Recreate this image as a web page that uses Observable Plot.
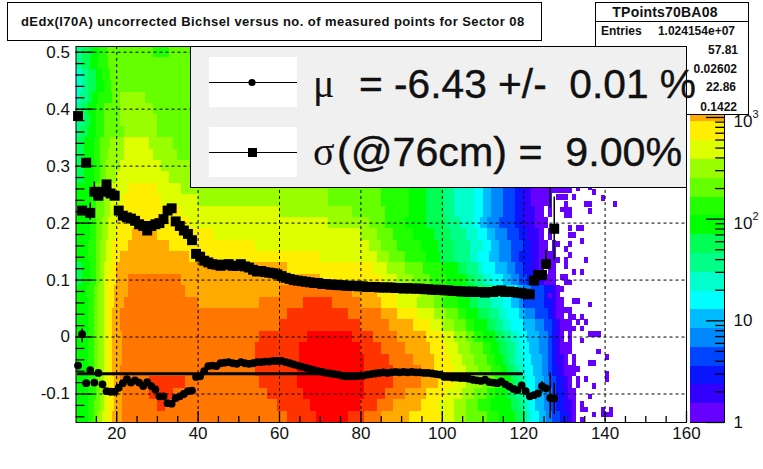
<!DOCTYPE html>
<html>
<head>
<meta charset="utf-8">
<script src="https://cdn.jsdelivr.net/npm/d3@7"></script>
<script src="https://cdn.jsdelivr.net/npm/@observablehq/plot@0.6"></script>
<style>
  html, body { margin: 0; background: #fff; }
  #chart { position: relative; width: 763px; height: 469px; overflow: hidden; font-family: "Liberation Sans", Arial, sans-serif; }
  #chart svg { position: absolute; left: 0; top: 0; }
  #chart svg text { -webkit-text-stroke: 0.3px #111; }
  .box { position: absolute; box-sizing: border-box; border: 1px solid #000; background: #fff; }
  .abs { position: absolute; white-space: pre; color: #111; }
  .big { -webkit-text-stroke: 0.4px #111; }
</style>
</head>
<body>
<div id="chart"></div>
<script>
const titleText = "dEdx(I70A) uncorrected Bichsel versus no. of measured points for Sector 08"
const statName = "TPoints70BA08"
const statValues = ["1.024154e+07", "57.81", "0.02602", "22.86", "0.1422"]

// colour levels of the palette, bottom to top of the z bar
const palette = ["#6600ff", "#3300ff", "#0a14ff", "#0044ff", "#0088ff", "#00bbff", "#00ffff", "#00ffcc", "#00ff88", "#00ff55",
  "#00ff00", "#22ff00", "#66ff00", "#99ff00", "#ddff00", "#ffee00", "#ffaa00", "#ff7700", "#ff3300", "#ff0000"]
const levelEdges = [1, 1.53, 2.34, 3.58, 5.48, 8.39, 12.8, 19.6, 30.1, 46, 70.5, 108, 165, 253, 387, 593, 908, 1390, 2130, 3260, 4990]
const zMajor = [1, 10, 100, 1000]
const zMinor = [2, 3, 4, 5, 6, 7, 8, 9, 20, 30, 40, 50, 60, 70, 80, 90, 200, 300, 400, 500, 600, 700, 800, 900, 2000, 3000, 4000]
const zPlainValues = [1, 10]
const zPlain = ["1", "10"]
const zPowerValues = [100, 1000]
const zPower = ["10", "10"]
const zExp = ["2", "3"]

const xMajor = [20, 40, 60, 80, 100, 120, 140, 160]
const xMinor = [15, 25, 30, 35, 45, 50, 55, 65, 70, 75, 85, 90, 95, 105, 110, 115, 125, 130, 135, 145, 150, 155]
const yMajor = [-0.1, 0, 0.1, 0.2, 0.3, 0.4, 0.5]
const yMinor = [-0.14, -0.12, -0.08, -0.06, -0.04, -0.02, 0.02, 0.04, 0.06, 0.08, 0.12, 0.14, 0.16, 0.18, 0.22, 0.24, 0.26, 0.28,
  0.32, 0.34, 0.36, 0.38, 0.42, 0.44, 0.46, 0.48]

// 2D histogram: for each row, pairs of level, x where that level ends (-1 is an empty stretch)
const rowBottom = [-0.15, -0.13, -0.11, -0.09, -0.07, -0.05, -0.03, -0.01, 0.01, 0.03, 0.05, 0.07, 0.09, 0.11, 0.13, 0.15, 0.17,
  0.19, 0.21, 0.23, 0.25, 0.27, 0.29, 0.31, 0.33, 0.35, 0.37, 0.39, 0.41, 0.43, 0.45, 0.47, 0.49]
const rowRuns = [
  [10,13,11,14.5,12,15.5,13,16.5,14,18,15,19,16,21.5,17,62,18,69,19,77,18,81,17,85,16,92,15,100,14,103,13,106,12,111,11,114,10,118,9,120,8,121,7,122,6,124,5,125.5,4,127,3,129,2,131,1,132,0,133],
  [10,13,11,14.5,12,16,13,17,14,18,15,19.5,16,21.5,17,30,18,32,17,59.5,18,67.5,19,80,18,84,17,88,16,95,15,99,14,103,13,106,12,109,11,112,10,117,9,119,8,120.5,7,121.5,6,123,5,125,4,126.5,3,128,2,130,1,132,0,133],
  [10,13,11,15,12,16,13,17,14,18,15,19.5,16,21.5,17,28,18,34,17,57,18,66,19,81,18,86,17,91,16,96,15,101,14,105,13,108,12,111,11,113,10,116,9,118,8,120,7,121,6,123,5,125,4,127,3,128,2,130,1,131,0,133],
  [10,13,11,15,12,16,13,17,14,18,15,19.5,16,21,17,28,18,37,17,55,18,64.5,19,81,18,88,17,95,16,99,15,103,14,106,13,110,12,113,11,115,10,117,9,118.5,8,120,7,121,6,123,5,125,4,126.5,3,128,2,129.5,1,131,0,132,-1,133,0,134],
  [10,13,11,14.5,12,15.5,13,17,14,18,15,19,16,21,17,54,18,64.5,19,81,18,88,17,95,16,98,15,103,14,106,13,109,12,112,11,114.5,10,116,9,117.5,8,119,7,120.5,6,122.5,5,124.5,4,126,3,127,2,128.5,1,130,0,133],
  [10,13,11,14.5,12,15.5,13,17,14,18,15,19,16,21.5,17,54,18,65,19,81,18,87,17,93,16,98,15,102,14,105,13,108,12,111,11,113,10,115,9,116.5,8,118,7,120,6,122,5,124.5,4,126,3,127,2,128,1,130,0,131,-1,132,0,133],
  [10,13,11,14.5,12,15.5,13,17,14,18,15,19,16,21.5,17,54,18,65,19,80,18,85,17,91,16,97,15,101,14,104,13,107,12,110,11,112,10,114,9,116,8,118,7,119.5,6,121.5,5,124,4,126,3,127,2,128,1,129,0,132],
  [10,13,11,14.5,12,15.5,13,17,14,18,15,19,16,21.5,17,55,18,67,19,78,18,83,17,89,16,96,15,100,14,103,13,106,12,108,11,110,10,113,9,115,8,117,7,119,6,121,5,124,4,126,3,127,2,128,1,129,0,130,-1,131,0,132],
  [10,13,11,14.5,12,15.5,13,17,14,18,15,19,16,21,17,60,18,80,17,87,16,93,15,97,14,100,13,103,12,106,11,108,10,111,9,113,8,115,7,117,6,120,5,123,4,125,3,127,2,128,1,129,0,132],
  [10,13,11,14.5,12,15.5,13,17,14,18,15,19,16,21,17,62,18,77,17,85,16,89,15,94,14,98,13,101,12,104,11,106,10,109,9,111.5,8,114,7,116,6,119,5,120.5,4,123,3,126,2,127,1,128,0,130,-1,131,0,132],
  [10,13,11,14.5,12,15.5,13,17,14,18,15,19.5,16,22,17,40,16,55,17,66,18,73,17,80,16,85,15,89,14,94,13,98,12,100,11,104,10,107,9,109,8,112,7,115,6,117,5,119,4,120,3,125,2,127,1,128,0,130],
  [10,12.5,11,14.5,12,15.5,13,17,14,18,15,19.5,16,23,17,37,16,60,17,78,16,84,15,89,14,95,13,98,12,101,11,104,10,108,9,111,8,114,7,117,6,118.5,5,120,4,122,3,125,2,127,1,128,0,129],
  [9,11.5,10,13.5,11,15,12,16,13,17,14,18,15,20,16,23,17,36,16,70,15,85,14,89,13,93,12,97,11,101,10,106,9,108,8,110,7,112,6,115,5,117,4,119,3,121,2,123,1,125,0,128],
  [9,11.5,10,13.5,11,15,12,16,13,17,14,18.5,15,20,16,62,15,83,14,86.5,13,91,12,95.5,11,100,10,104,9,106,8,109,7,110,6,113,5,116,4,118,3,120,2,122,1,124,0,125,-1,126,0,128],
  [10,13,11,15,12,16,13,17.5,14,19,15,21,16,38,15,70,14,84,13,87,12,91,11,96,10,99.5,9,103,8,107,7,109,6,111.5,5,114,4,117,3,119,2,122,1,124,0,128],
  [10,13,11,15,12,16,13,17.5,14,19,15,23,16,33,15,54,14,82,13,85,12,89,11,95,10,99,9,103,8,107,7,110,6,112,5,114,4,117,3,120,2,122,1,124,0,126,-1,127,0,128],
  [10,13.5,11,15,12,16.5,13,18,14,20,15,24,16,30,15,44,14,80,13,84,12,88,11,93,10,98,9,102,8,106,7,109,6,111,5,113,4,116,3,119,2,121,1,124,0,125,-1,126,0,127],
  [10,13.5,11,15,12,16.5,13,18,14,20,15,38,14,72,13,82,12,86,11,91,10,96,9,101,8,104.5,7,108,6,109.5,5,111,4,114,3,118,2,120,1,123,0,126],
  [10,13.5,11,15,12,17,13,18.5,14,21,15,36,14,60,13,78,12,86,11,92,10,96,9,100.5,8,103,7,108,6,110,5,112,4,115,3,118,2,120,1,123,0,125,-1,126,0,127],
  [10,14,11,15,12,17,13,18.5,14,21.5,15,31,14,40,13,72,12,85,11,92,10,96,9,100.5,8,103,7,108,6,110,5,112,4,115,3,118,2,120,1,122,0,127],
  [10,14,11,15,12,17,13,19,14,23,15,30,14,36,13,72,12,85,11,92,10,96,9,100.5,8,103,7,108,6,110,5,112,4,115,3,118,2,120,1,122,0,127],
  [9,12,10,14.5,11,16,12,17.5,13,20,14,33,13,39],
  [9,12,10,14.5,11,16,12,17.5,13,21,14,31,13,39],
  [9,12,10,14.5,11,16,12,18,13,22,14,29,13,35,12,39],
  [9,12,10,14.5,11,16,12,18.5,13,22,14,28,13,34,12,39],
  [8,11,9,13,10,15,11,17,12,22,13,30,12,39],
  [8,12,9,13.5,10,15,11,17,12,21,13,30,12,39],
  [8,11.5,9,13,10,15,11,17,12,21,13,29,12,39],
  [7,11,8,13,9,14,10,15.5,11,19,12,21,13,27,12,39],
  [7,11.5,8,13,9,15,10,17,11,18.6,12,39],
  [7,11.5,8,13,9,15,10,16.5,11,18.5,12,39],
  [8,11.5,9,13.5,10,15.5,11,18,12,39],
  [8,11.6,9,13.7,10,15.7,11,17.8,12,29,11,33,12,39]
]

// lone low-count bins at the right edge of the histogram
const sparseX = [127.5,128.5,129.5,130.5,131.5,133.5,136.5,137.5,128.5,129.5,130.5,132.5,139.5,130.5,135.5,136.5,142.5,129.5,130.5,131.5,136.5,130.5,131.5,
  131.5,133.5,134.5,131.5,132.5,134.5,128.5,131.5,130.5,131.5,127.5,128.5,130.5,135.5,130.5,132.5,134.5,126.5,127.5,129.5,130.5,125.5,127.5,130.5,131.5,128.5,129.5,126.5,
  129.5,132.5,133.5,136.5,128.5,129.5,130.5,131.5,132.5,134.5,133.5,135.5,130.5,131.5,132.5,134.5,136.5,137.5,138.5,134.5,138.5,140.5,136.5,137.5,132.5,133.5,140.5,140.5,
  135.5,137.5,136.5,134.5,134.5,135.5,139.5,141.5,137.5,139.5,140.5,141.5,134.5]
const sparseY = [0.257,0.257,0.257,0.257,0.257,0.26,0.262,0.254,0.245,0.245,0.245,0.245,0.243,0.233,0.233,0.233,0.233,0.223,0.223,0.223,0.22,0.213,0.213,
  0.19,0.19,0.19,0.178,0.178,0.168,0.163,0.163,0.154,0.143,0.134,0.134,0.134,0.134,0.124,0.113,0.113,0.113,0.105,0.105,0.105,0.095,0.095,0.095,0.095,0.084,0.084,0.072,
  0.063,0.063,0.063,0.056,0.046,0.046,0.046,0.046,0.034,0.034,0.025,0.025,0.014,0.014,0.014,0.014,0.004,0.004,0.004,-0.007,-0.026,-0.036,-0.046,-0.046,-0.057,-0.057,-0.066,-0.075,
  -0.075,-0.087,-0.105,-0.119,-0.128,-0.128,-0.128,-0.128,-0.137,-0.137,-0.137,-0.137,-0.146]

// mean and sigma per number of measured points
const pointX = [10.5,11.5,12.5,13.5,14.5,15.5,16.5,17.5,18.5,19.5,20.5,21.5,22.5,23.5,24.5,25.5,26.5,27.5,28.5,29.5,30.5,31.5,32.5,33.5,34.5,35.5,36.5,37.5,38.5,39.5,
  40.5,41.5,42.5,43.5,44.5,45.5,46.5,47.5,48.5,49.5,50.5,51.5,52.5,53.5,54.5,55.5,56.5,57.5,58.5,59.5,60.5,61.5,62.5,63.5,64.5,65.5,66.5,67.5,68.5,69.5,
  70.5,71.5,72.5,73.5,74.5,75.5,76.5,77.5,78.5,79.5,80.5,81.5,82.5,83.5,84.5,85.5,86.5,87.5,88.5,89.5,90.5,91.5,92.5,93.5,94.5,95.5,96.5,97.5,98.5,99.5,
  100.5,101.5,102.5,103.5,104.5,105.5,106.5,107.5,108.5,109.5,110.5,111.5,112.5,113.5,114.5,115.5,116.5,117.5,118.5,119.5,120.5,121.5,122.5,123.5,124.5,125.5,126.5,127.5]
const muValues = [-0.05,0.005,-0.081,-0.058,-0.08,-0.063,-0.083,-0.095,-0.096,-0.096,-0.089,-0.081,-0.074,-0.08,-0.076,-0.08,-0.086,-0.079,-0.086,-0.092,-0.104,-0.104,-0.116,-0.117,-0.107,-0.104,-0.1,-0.095,-0.094,-0.07,
  -0.069,-0.06,-0.051,-0.05,-0.051,-0.046,-0.045,-0.044,-0.046,-0.047,-0.044,-0.046,-0.047,-0.046,-0.044,-0.044,-0.043,-0.043,-0.042,-0.042,-0.042,-0.044,-0.046,-0.048,-0.05,-0.052,-0.054,-0.056,-0.058,-0.06,
  -0.061,-0.063,-0.064,-0.065,-0.066,-0.068,-0.069,-0.069,-0.069,-0.068,-0.068,-0.066,-0.065,-0.064,-0.063,-0.062,-0.063,-0.062,-0.061,-0.062,-0.061,-0.062,-0.061,-0.062,-0.062,-0.063,-0.063,-0.064,-0.065,-0.066,
  -0.07,-0.07,-0.071,-0.071,-0.072,-0.072,-0.073,-0.075,-0.076,-0.077,-0.075,-0.079,-0.08,-0.081,-0.078,-0.083,-0.087,-0.091,-0.093,-0.085,-0.095,-0.104,-0.102,-0.099,-0.086,-0.09,-0.107,-0.108]
const sigmaValues = [0.388,0.222,0.306,0.218,0.255,0.248,0.255,0.268,0.252,0.248,0.222,0.213,0.21,0.208,0.204,0.198,0.195,0.187,0.195,0.198,0.2,0.207,0.222,0.226,0.203,0.195,0.187,0.181,0.17,0.146,
  0.141,0.134,0.131,0.128,0.127,0.125,0.127,0.128,0.125,0.125,0.128,0.124,0.122,0.118,0.115,0.116,0.114,0.113,0.112,0.11,0.107,0.104,0.102,0.1,0.099,0.098,0.097,0.096,0.095,0.095,
  0.093,0.093,0.092,0.092,0.091,0.091,0.09,0.09,0.09,0.089,0.089,0.088,0.088,0.088,0.087,0.087,0.087,0.087,0.086,0.086,0.085,0.086,0.085,0.085,0.085,0.084,0.084,0.083,0.083,0.083,
  0.082,0.082,0.081,0.081,0.08,0.08,0.079,0.08,0.079,0.079,0.078,0.079,0.079,0.081,0.082,0.079,0.08,0.079,0.078,0.077,0.076,0.075,0.099,0.109,0.109,0.128,0.33,0.19]

// the error bars that stick out of the markers
const errX = [11.5, 14.5, 13.5, 125.5, 126.5, 127.5, 124.5, 126.5, 127.5]
const errLow = [-0.01, 0.24, 0.205, 0.12, 0.227, 0.134, -0.098, -0.144, -0.136]
const errHigh = [0.014, 0.272, 0.235, 0.153, 0.4, 0.246, -0.078, -0.063, -0.081]

// gaussian fit drawn across the mean points
const fitX = [10.5, 119.5]
const fitY = [-0.0643, -0.0643]

const cells = rowBottom.flatMap((y, r) => {
  const runs = rowRuns[r]
  const out = []
  let x0 = 10
  for (let i = 0; i < runs.length; i += 2) {
    if (runs[i] >= 0) out.push({ x1: x0, x2: runs[i + 1], y1: y, y2: y + 0.02, level: runs[i] })
    x0 = runs[i + 1]
  }
  return out
})
// bottom row touches the frame
cells.filter(d => d.y1 === -0.15).forEach(d => { d.y1 = -0.16 })

const tickFont = { fontSize: 17, fontFamily: "Liberation Sans, Arial, sans-serif", fill: "#111" }

const chart = Plot.plot({
  width: 763,
  height: 469,
  marginLeft: 75.5,
  marginRight: 77,
  marginTop: 46,
  marginBottom: 47,
  style: { background: "transparent" },
  x: { domain: [10, 160] },
  y: { domain: [-0.15, 0.51] },
  color: { type: "ordinal", domain: d3.range(20), range: palette },
  marks: [
    Plot.rect(cells, { x1: "x1", x2: "x2", y1: "y1", y2: "y2", fill: "level", shapeRendering: "crispEdges", clip: true }),
    Plot.rect(sparseX.map((x, i) => ({ x1: x - 0.5, x2: x + 0.5, y1: sparseY[i] - 0.005, y2: sparseY[i] + 0.005 })),
      { x1: "x1", x2: "x2", y1: "y1", y2: "y2", fill: palette[0], shapeRendering: "crispEdges", clip: true }),
    Plot.gridX(xMajor.slice(0, -1), { stroke: "#000", strokeOpacity: 1, strokeDasharray: "3,3" }),
    Plot.gridY(yMajor, { stroke: "#000", strokeOpacity: 1, strokeDasharray: "3,3" }),
    Plot.axisX({ ticks: xMajor, tickSize: 0, tickPadding: 4, tickFormat: String, label: null, ...tickFont }),
    Plot.axisY({ ticks: yMajor, tickSize: 0, tickPadding: 6, tickFormat: String, label: null, ...tickFont }),
    Plot.ruleX(errX.map((x, i) => ({ x, lo: errLow[i], hi: errHigh[i] })), { x: "x", y1: "lo", y2: "hi", stroke: "#000", strokeWidth: 1.5, clip: true }),
    Plot.line(fitX.map((x, i) => ({ x, y: fitY[i] })), { x: "x", y: "y", stroke: "#000", strokeWidth: 3 }),
    Plot.dot(pointX.map((x, i) => ({ x, y: muValues[i] })), { x: "x", y: "y", r: 3.9, fill: "#000" }),
    Plot.dot(pointX.map((x, i) => ({ x, y: sigmaValues[i] })), { x: "x", y: "y", symbol: "square", r: 5.6, fill: "#000" }),
    // ROOT style ticks, inside the frame, drawn last so the heat map cannot hide them
    Plot.ruleX(xMinor, { x: d => d, y1: -0.15, y2: -0.1395, stroke: "#000", strokeWidth: 1.3 }),
    Plot.ruleX(xMajor, { x: d => d, y1: -0.15, y2: -0.1307, stroke: "#000", strokeWidth: 1.3 }),
    Plot.ruleY(yMinor, { y: d => d, x1: 10, x2: 12.2, stroke: "#000", strokeWidth: 1.3 }),
    Plot.ruleY(yMajor, { y: d => d, x1: 10, x2: 14.4, stroke: "#000", strokeWidth: 1.3 }),
    Plot.frame({ stroke: "#000" })
  ]
})

// z colour bar, second svg over the first
const zBar = Plot.plot({
  width: 763,
  height: 469,
  marginLeft: 690,
  marginRight: 39,
  marginTop: 46,
  marginBottom: 47,
  style: { background: "transparent" },
  x: { domain: [0, 1], axis: null },
  y: { type: "log", domain: [1, 4990], axis: null },
  marks: [
    Plot.rect(palette.map((c, i) => ({ c, lo: levelEdges[i], hi: levelEdges[i + 1] })),
      { x1: 0, x2: 1, y1: "lo", y2: "hi", fill: "c", shapeRendering: "crispEdges" }),
    Plot.ruleY(zMinor, { y: d => d, x1: 0.74, x2: 1, stroke: "#000", strokeWidth: 1.3 }),
    Plot.ruleY(zMajor, { y: d => d, x1: 0.47, x2: 1, stroke: "#000", strokeWidth: 1.3 }),
    Plot.frame({ anchor: "right", stroke: "#000" }),
    Plot.frame({ anchor: "bottom", stroke: "#000" }),
    Plot.text(zPlain, { x: 1, y: (d, i) => zPlainValues[i], dx: 9, textAnchor: "start", ...tickFont }),
    Plot.text(zPower, { x: 1, y: (d, i) => zPowerValues[i], dx: 9, dy: 4, textAnchor: "start", ...tickFont }),
    Plot.text(zExp, { x: 1, y: (d, i) => zPowerValues[i], dx: 28, dy: -3, textAnchor: "start", ...tickFont, fontSize: 11 })
  ]
})

const root = document.getElementById("chart")
root.append(chart, zBar)

function addBox(left, top, w, h, bg) {
  const el = document.createElement("div")
  el.className = "box"
  el.style.cssText = `left:${left}px;top:${top}px;width:${w}px;height:${h}px;` + (bg ? `background:${bg};` : "")
  root.append(el)
  return el
}
function addText(text, css, cls) {
  const el = document.createElement("div")
  el.className = "abs" + (cls ? " " + cls : "")
  el.textContent = text
  el.style.cssText = css
  root.append(el)
  return el
}

// title box
addBox(7, 2, 535, 39)
addText(titleText, "left:21px;top:14px;font:bold 13px 'Liberation Sans';letter-spacing:0.43px;line-height:15px")

// stats box
addBox(595, 2, 154, 113)
addBox(595, 2, 154, 20)
addText(statName, "left:588px;width:154px;text-align:center;top:4px;font:bold 14px 'Liberation Sans';letter-spacing:0.2px;line-height:16px")
addText("Entries", "left:601px;top:24px;font:bold 12px 'Liberation Sans';line-height:14px")
const statTop = [24, 43, 62, 80, 100]
const statRight = [735, 738, 737, 736, 737]
statValues.forEach((v, i) => addText(v, `right:${763 - statRight[i]}px;top:${statTop[i]}px;font:bold 12px 'Liberation Sans';line-height:14px`))

// legend panel
addBox(190, 46, 497, 142, "#f0f0f0")
addBox(209, 57, 88, 50, "#fff").style.border = "none"
addBox(209, 127, 88, 50, "#fff").style.border = "none"

const legendKey = d3.create("svg").attr("width", 763).attr("height", 469).style("pointer-events", "none")
legendKey.append("line").attr("x1", 209).attr("x2", 297).attr("y1", 82.5).attr("y2", 82.5).attr("stroke", "#000")
legendKey.append("line").attr("x1", 209).attr("x2", 297).attr("y1", 152.5).attr("y2", 152.5).attr("stroke", "#000")
legendKey.append("circle").attr("cx", 252).attr("cy", 82.5).attr("r", 3.6).attr("fill", "#000")
legendKey.append("rect").attr("x", 248).attr("y", 148).attr("width", 9).attr("height", 9).attr("fill", "#000")
root.append(legendKey.node())

addText("\u03bc", "left:313px;top:62px;font:40px 'Liberation Serif';line-height:44px")
addText("= -6.43 +/-  0.01 %", "left:359px;top:62px;font:40.7px 'Liberation Sans';line-height:44px", "big")
addText("\u03c3", "left:313px;top:130px;font:40px 'Liberation Serif';line-height:44px")
addText("(@76cm) =  9.00%", "left:337px;top:130px;font:41.2px 'Liberation Sans';line-height:44px", "big")
</script>
</body>
</html>
